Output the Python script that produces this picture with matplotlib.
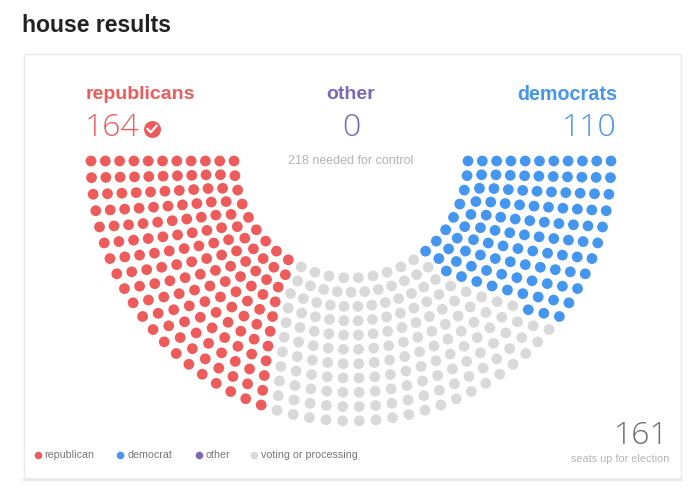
import numpy as np
import matplotlib
matplotlib.use("Agg")
import matplotlib.pyplot as plt
from matplotlib.patches import Rectangle

plt.rcParams['font.family'] = ['Liberation Sans', 'DejaVu Sans']

# ----------------------------
# Data
# ----------------------------
party_labels = ["republicans", "other", "democrats"]
party_totals = [164, 0, 110]
seats_needed = 218
seats_open = 161
legend_labels = ["republican", "democrat", "other", "voting or processing"]

# seats per arc, inner arc first
row_seats = [26, 31, 34, 36, 38, 40, 42, 44, 46, 48, 50]
# how many seats of each arc are called, inner arc first
rep_by_row = [9, 11, 12, 13, 14, 15, 16, 17, 18, 19, 20]
dem_by_row = [8, 9, 10, 10, 10, 10, 10, 10, 11, 11, 11]

RED = "#ee5b5b"
BLUE = "#4596ee"
PURPLE = "#7c68b8"
GREY = "#d9d9d9"
TEXT_GREY = "#b5b5b5"

# ----------------------------
# Figure, drawn in pixel units
# ----------------------------
fig = plt.figure(figsize=(7, 4.91), dpi=100)
ax = fig.add_axes([0, 0, 1, 1])
ax.set_xlim(0, 700)
ax.set_ylim(491, 0)
ax.axis("off")

ax.text(22, 25, "house results", fontsize=16.6, fontweight="bold", color="#222222", va="center")
ax.add_patch(Rectangle((23.5, 53.5), 657, 426, fc="white", ec="#e9e9e9", lw=1))
ax.add_patch(Rectangle((23, 478), 658, 3, fc="#e9e9e9", ec="none"))

# ----------------------------
# Seats
# ----------------------------
cx, cy = 351, 161
radii = np.linspace(117, 260, len(row_seats))
xs, ys, cs = [], [], []
for r, n, n_rep, n_dem in zip(radii, row_seats, rep_by_row, dem_by_row):
    ang = np.linspace(np.pi, 0, n)
    colors = [RED] * n_rep + [GREY] * (n - n_rep - n_dem) + [BLUE] * n_dem
    xs.extend(cx + r * np.cos(ang))
    ys.extend(cy + r * np.sin(ang))
    cs.extend(colors)
ax.scatter(xs, ys, c=cs, s=60, linewidths=0, zorder=3)

# ----------------------------
# Header numbers
# ----------------------------
ax.text(140, 94, party_labels[0], color=RED, fontsize=14, fontweight="bold", ha="center", va="center")
ax.text(351, 94, party_labels[1], color=PURPLE, fontsize=14, fontweight="bold", ha="center", va="center")
ax.text(617, 94, party_labels[2], color=BLUE, fontsize=14.2, fontweight="bold", ha="right", va="center")

num_font = dict(family="Open Sans", weight="light", fontsize=23, va="center")
ax.text(85, 128.5, str(party_totals[0]), color=RED, ha="left", **num_font)
ax.text(351, 128.5, str(party_totals[1]), color=PURPLE, ha="center", **num_font)
ax.text(617, 128.5, str(party_totals[2]), color=BLUE, ha="right", **num_font)

# check badge next to the republican total
ax.scatter([152], [129], s=150, c=RED, linewidths=0, zorder=3)
ax.plot([147.5, 150.8, 156.5], [129, 132.3, 125.8], color="white", lw=1.6, zorder=4)

ax.text(351, 161, f"{seats_needed} needed for control", color=TEXT_GREY, fontsize=9, ha="center", va="center")

ax.text(669, 435.5, str(seats_open), color="#6e6e6e", ha="right", **num_font)
ax.text(669, 459, "seats up for election", color=TEXT_GREY, fontsize=7.8, ha="right", va="center")

# ----------------------------
# Legend
# ----------------------------
legend_x = [37.5, 120, 199, 254]
legend_colors = [RED, BLUE, PURPLE, GREY]
for lx, lab, col in zip(legend_x, legend_labels, legend_colors):
    ax.scatter([lx], [455], s=30, c=col, linewidths=0)
    ax.text(lx + 7, 455, lab, color="#777777", fontsize=7.7, ha="left", va="center")

fig.savefig("out.png", dpi=100)
